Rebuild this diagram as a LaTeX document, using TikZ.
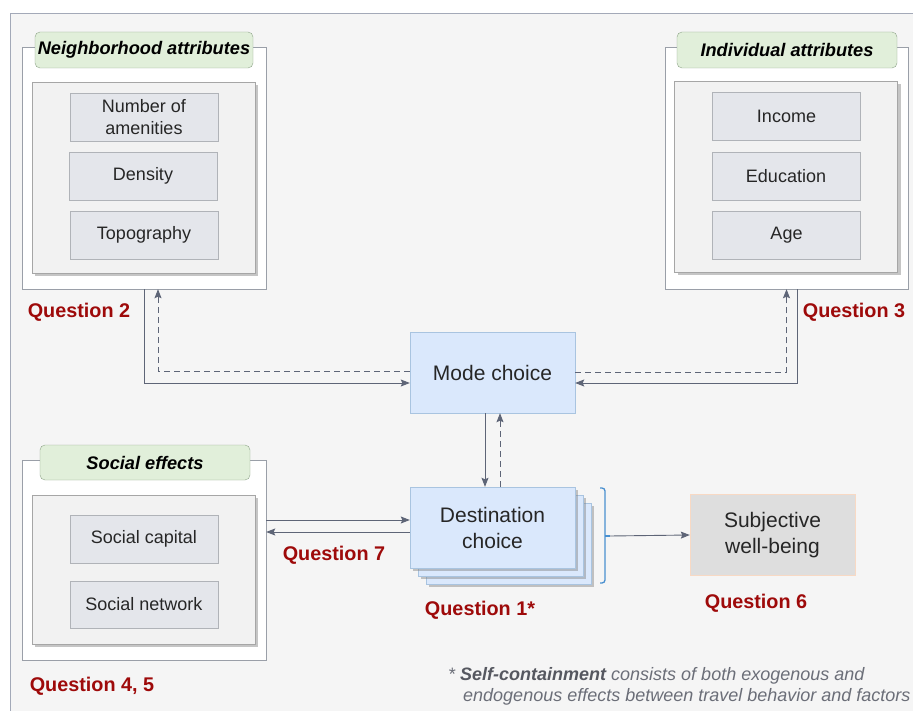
\documentclass[tikz,border=0pt]{standalone}
\usepackage{fontspec}
\setmainfont{Liberation Sans}
\usepackage{tikz}
\usetikzlibrary{arrows.meta,positioning,calc,shadows}
\definecolor{cBg}  {HTML}{F5F5F5}
\definecolor{cFrm} {HTML}{A3A9B8}
\definecolor{cArr} {HTML}{5E6577}
\definecolor{cTag} {HTML}{E1EFDA}
\definecolor{cTagD}{HTML}{8FA58A}
\definecolor{cItm} {HTML}{E4E6EB}
\definecolor{cItmD}{HTML}{B0B3B8}
\definecolor{cPnl} {HTML}{F2F2F2}
\definecolor{cPnlD}{HTML}{A6A6A6}
\definecolor{cGrpD}{HTML}{9A9FA8}
\definecolor{cBlu} {HTML}{DAE8FC}
\definecolor{cBluD}{HTML}{A9C4E0}
\definecolor{cSwb} {HTML}{DEDEDE}
\definecolor{cSwbD}{HTML}{F8D9C4}
\definecolor{cQst} {HTML}{9E0A0A}
\definecolor{cNote}{HTML}{6B6E78}
\definecolor{cBrc} {HTML}{4A90D0}
\tikzset{
  grp/.style   ={draw=cGrpD,fill=white,minimum width=#1,inner sep=0pt},
  tagbox/.style={draw=cTagD,fill=cTag,rounded corners=5pt,inner sep=0pt,
                 minimum height=36pt,font=\fontsize{18.2}{20}\selectfont\bfseries\itshape},
  shd/.style   ={drop shadow={shadow xshift=3pt,shadow yshift=-3pt,opacity=.45}},
  pnl/.style   ={draw=cPnlD,fill=cPnl,inner sep=0pt,minimum width=223pt,shd},
  itm/.style   ={draw=cItmD,fill=cItm,inner sep=0pt,minimum width=148pt,minimum height=48pt,
                 align=center,font=\fontsize{18}{21.5}\selectfont,text=black!85},
  choice/.style={draw=cBluD,fill=cBlu,inner sep=0pt,minimum width=165pt,minimum height=81pt,
                 align=center,font=\fontsize{21}{26}\selectfont,text=black!85},
  qst/.style   ={font=\fontsize{19.8}{22}\selectfont\bfseries,text=cQst,inner sep=0pt},
  note/.style  ={font=\fontsize{18}{20}\selectfont\itshape,text=cNote,inner sep=0pt,anchor=west},
  arr/.style   ={-{Stealth[length=9pt,width=7pt,inset=1.5pt]},draw=cArr,line width=.9pt},
  dsh/.style   ={arr,dash pattern=on 6pt off 4pt},
}

\begin{document}
\begin{tikzpicture}[x=1pt, y=-1pt]
\useasboundingbox (0,0) rectangle (913,711);
\draw[draw=cFrm,fill=cBg,line width=.9pt] (10,13) rectangle (930,730);

% ===== neighborhood attributes =============================================
\node[grp=244pt,minimum height=242pt] (nbout) at (144,168) {};
\node[tagbox,minimum width=218pt] (nbtag) at (144,50) {Neighborhood attributes};
\node[pnl,minimum height=191pt] (nbpnl) at (143.5,177.5) {};
\node[itm] (amen) at (144,117) {Number of\\amenities};
\node[itm] (dens) at (143,176) {Density};
\node[itm] (topo) at (144,235) {Topography};

% ===== individual attributes ===============================================
\node[grp=243pt,minimum height=242pt] (inout) at (786.5,168) {};
\node[tagbox,minimum width=220pt] (intag) at (787,50) {Individual attributes};
\node[pnl,minimum height=191pt] (inpnl) at (786,176.5) {};
\node[itm] (inc) at (786.5,116) {Income};
\node[itm] (edu) at (786,176) {Education};
\node[itm] (age) at (786.5,235) {Age};

% ===== social effects ======================================================
\node[grp=244pt,minimum height=200pt] (soout) at (144,560) {};
\node[tagbox,minimum width=210pt,minimum height=35pt] (sotag) at (145,462.5) {Social effects};
\node[pnl,minimum height=149pt] (sopnl) at (143.5,569.5) {};
\node[itm] (scap) at (144,539) {Social capital};
\node[itm,minimum height=47pt] (snet) at (144,604.5) {Social network};

% ===== travel choices ======================================================
\node[choice] (mode) at (492.5,372.5) {Mode choice};
\node[choice,shd] (dst3) at (508.5,543.5) {};
\node[choice,shd] (dst2) at (500.5,535.5) {};
\node[choice,shd] (dest) at (492.5,527.5) {Destination\\choice};
\node[choice,draw=cSwbD,fill=cSwb] (swb) at (772.5,535) {Subjective\\well-being};

% ===== links ===============================================================
\draw[arr] (nbout.south) |- ($(mode.west)+(0,10.5)$);
\draw[dsh] ($(mode.west)+(0,-1.5)$) -| ($(nbout.south)+(14,0)$);
\draw[arr] ($(inout.south)+(10.5,0)$) |- ($(mode.east)+(0,10.5)$);
\draw[dsh] ($(mode.east)+(0,-0.5)$) -| (inout.south);
\draw[arr] ($(mode.south)+(-7.5,0)$) -- ($(dest.north)+(-7.5,0)$);
\draw[dsh] ($(dest.north)+(7.5,0)$) -- ($(mode.south)+(7.5,0)$);
\coordinate (dwA) at ($(dest.west)+(0,-7.5)$);
\coordinate (dwB) at ($(dest.west)+(0,4.5)$);
\draw[arr] (soout.east |- dwA) -- (dwA);
\draw[arr] (dwB) -- (soout.east |- dwB);

% brace round the stacked destination boxes
\coordinate (brc) at (610,536);
\draw[draw=cBrc,line width=1.3pt,rounded corners=3pt]
  (600,488) -- (605,488) -- (605,583) -- (600,583);
\draw[draw=cBrc,line width=1.3pt] (605,536) -- (brc);
\draw[arr] (brc) -- (swb.west);

% ===== question labels =====================================================
\node[qst] (q2)  at (79,312)   {Question 2};
\node[qst] (q3)  at (854,312)  {Question 3};
\node[qst] (q7)  at (334,555)  {Question 7};
\node[qst] (q1)  at (480,610)  {Question 1*};
\node[qst] (q6)  at (756,603)  {Question 6};
\node[qst] (q45) at (92,686)   {Question 4, 5};

\node[note] (fn1) at (448,676) {* \textbf{\color{cNote!80!black}Self-containment} consists of both exogenous and};
\node[note] (fn2) at (463,697) {endogenous effects between travel behavior and factors};
\end{tikzpicture}
\end{document}
